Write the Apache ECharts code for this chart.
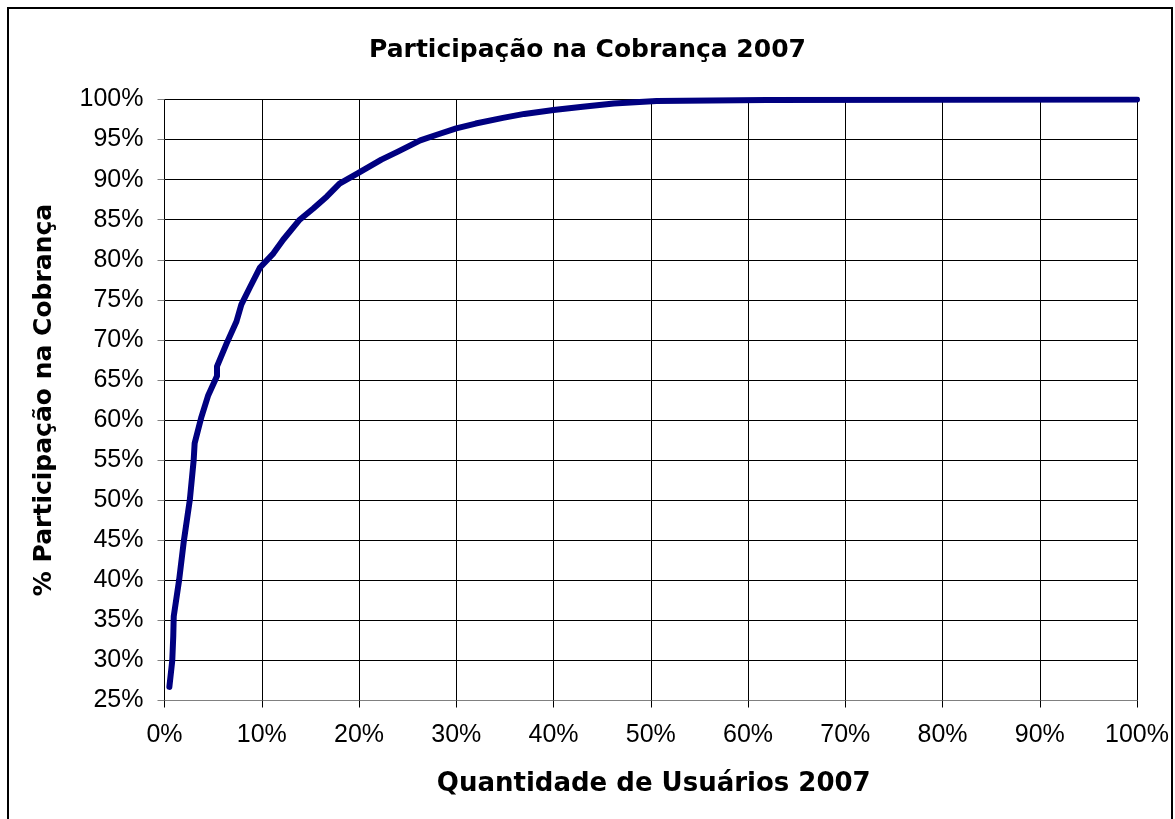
<!DOCTYPE html>
<html>
<head>
<meta charset="utf-8">
<script src="https://cdn.jsdelivr.net/npm/echarts@6/dist/echarts.min.js"></script>
<style>
  html, body { margin: 0; padding: 0; background: #fff; }
  #chart1 { width: 1175px; height: 819px; }
</style>
</head>
<body>
<div id="chart1"></div>
<script>
// % de usuarios (eixo x) e % participacao acumulada (eixo y)
var usuarios = [0.5, 0.8, 0.9, 0.95, 1.5, 2.0, 2.6, 3.0, 3.1, 3.8, 4.5, 5.4, 5.4, 6.4, 7.4, 7.9, 8.8, 9.8, 11.2, 12.2, 13.9, 15.3, 16.7, 18.0, 19.9, 22.3, 24.0, 26.3, 28.0, 30.0, 32.0, 34.8, 37.0, 40.0, 43.0, 46.2, 50.6, 61.9, 100];
var participacao = [26.7, 30.0, 33.0, 35.5, 40.0, 45.0, 50.0, 55.0, 57.1, 60.4, 63.1, 65.5, 66.7, 69.6, 72.3, 74.4, 76.6, 79.0, 80.8, 82.5, 85.0, 86.4, 87.9, 89.5, 90.8, 92.5, 93.5, 94.9, 95.6, 96.4, 97.0, 97.7, 98.2, 98.7, 99.1, 99.5, 99.8, 99.95, 100];

var titulo = 'Participação na Cobrança 2007';
var nomeX = 'Quantidade de Usuários 2007';
var nomeY = '% Participação na Cobrança';

var pontos = usuarios.map(function (x, i) { return [x, participacao[i]]; });

var chart = echarts.init(document.getElementById('chart1'));
var fonte = '"Liberation Sans", Arial, sans-serif';
var fonteNegrito = '"DejaVu Sans", "Liberation Sans", sans-serif';

chart.setOption({
  animation: false,
  textStyle: { fontFamily: fonte, color: '#000' },
  graphic: [{
    type: 'rect',
    shape: { x: 8, y: 8, width: 1164, height: 820 },
    style: { fill: 'none', stroke: '#000', lineWidth: 2 },
    silent: true
  }],
  title: {
    text: titulo,
    left: 'center',
    top: 33,
    textStyle: { fontSize: 25, fontWeight: 'bold', color: '#000', fontFamily: fonteNegrito }
  },
  grid: {
    left: 164.5,
    top: 99.5,
    right: 38,
    bottom: 118.5,
    containLabel: false
  },
  xAxis: {
    type: 'value',
    min: 0,
    max: 100,
    interval: 10,
    name: nomeX,
    nameLocation: 'middle',
    nameGap: 71,
    nameTextStyle: { fontSize: 26, fontWeight: 'bold', color: '#000', fontFamily: fonteNegrito, padding: [0, 0, 0, 6] },
    axisLine: { show: true, lineStyle: { color: '#808080', width: 1 } },
    axisTick: { show: true, length: 7, lineStyle: { color: '#000' } },
    axisLabel: { formatter: '{value}%', fontSize: 25, color: '#000', margin: 22, fontFamily: fonte },
    splitLine: { show: true, lineStyle: { color: '#000', width: 1 } }
  },
  yAxis: {
    type: 'value',
    min: 25,
    max: 100,
    interval: 5,
    name: nomeY,
    nameLocation: 'middle',
    nameGap: 108,
    nameTextStyle: { fontSize: 25, fontWeight: 'bold', color: '#000', fontFamily: fonteNegrito },
    axisLine: { show: true, lineStyle: { color: '#000', width: 1 } },
    axisTick: { show: true, length: 7, lineStyle: { color: '#808080' } },
    axisLabel: { formatter: '{value}%', fontSize: 25, color: '#000', margin: 21, fontFamily: fonte },
    splitLine: { show: true, lineStyle: { color: '#000', width: 1 } }
  },
  series: [{
    type: 'line',
    data: pontos,
    showSymbol: false,
    smooth: false,
    lineStyle: { color: '#000080', width: 6, cap: 'round', join: 'round' },
    itemStyle: { color: '#000080' }
  }]
});
</script>
</body>
</html>
